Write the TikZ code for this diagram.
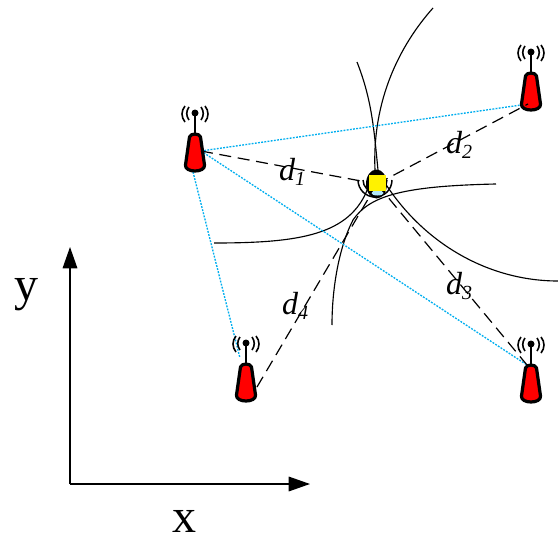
\documentclass[tikz,border=0pt]{standalone}
\usepackage{fontspec}
\setmainfont{Liberation Serif}
\usetikzlibrary{arrows.meta}
\definecolor{linkblue}{RGB}{0,174,239}
\newcommand{\dsub}[1]{\raisebox{-3.5pt}{\fontsize{15}{15}\selectfont #1}}
\tikzset{
  x=0.75pt,y=-0.75pt,
  rangeline/.style={line width=0.9pt,dash pattern=on 9pt off 5pt},
  bluelink/.style={linkblue,line width=1pt,dash pattern=on 1.4pt off 1pt},
  hyper/.style={line width=0.85pt},
  axisline/.style={line width=0.9pt,-{Triangle[length=16pt,width=11pt]}},
  axislabel/.style={font=\fontsize{36}{36}\selectfont,inner sep=0pt},
  dlabel/.style={font=\fontsize{24}{24}\selectfont\itshape,inner sep=0pt},
  pics/antenna/.style={code={
    \draw[line width=2.2pt,line cap=round] (0,2) -- (0,21);
    \fill (0,0) circle[radius=3.5];
    \draw[line width=1.2pt] (-6,-6) .. controls (-9,-2) and (-9,3) .. (-6,7);
    \draw[line width=1.2pt] (6,-6) .. controls (9,-2) and (9,3) .. (6,7);
    \draw[line width=1.2pt] (-10,-7) .. controls (-14,-2) and (-14,4) .. (-10,9);
    \draw[line width=1.2pt] (10,-7) .. controls (14,-2) and (14,4) .. (10,9);
    \draw[line width=2.4pt,fill=red,line join=round] (-5.5,24) .. controls (-4,20) and (4,20) .. (5.5,24) -- (9.5,52)
       .. controls (10.5,60) and (-10.5,60) .. (-9.5,52) -- cycle;
  }}
}
\begin{document}
\begin{tikzpicture}
\useasboundingbox (0,0) rectangle (558,539);
% axes
\coordinate (o) at (70,484);
\coordinate (yend) at (70,247);
\coordinate (xend) at (310,484);
\draw[axisline] (o) -- (yend);
\draw[axisline] (o) -- (xend);
\node[axislabel] (ylab) at (26,295) {y};
\node[axislabel] (xlab) at (184,521) {x};
% hyperbolas
\coordinate (h1a) at (433,8);
\coordinate (h1b) at (375,170);
\coordinate (h2a) at (357,62);
\coordinate (h2b) at (378,170);
\coordinate (h3a) at (214,243);
\coordinate (h3b) at (368,188);
\coordinate (h4a) at (332,325);
\coordinate (h4m) at (353,220);
\coordinate (h4b) at (496,184);
\coordinate (h5a) at (558,281);
\coordinate (h5b) at (385,183);
\draw[hyper] (h1a) .. controls (400,45) and (372,100) .. (h1b);
\draw[hyper] (h2a) .. controls (372,100) and (374,130) .. (h2b);
\draw[hyper] (h3a) .. controls (300,243) and (350,235) .. (h3b);
\draw[hyper] (h4a) .. controls (332,285) and (340,245) .. (h4m) .. controls (370,195) and (405,186) .. (h4b);
\draw[hyper] (h5a) .. controls (490,281) and (425,245) .. (h5b);
% anchors
\coordinate (m) at (377,184);
\coordinate (a1) at (201,151);
\coordinate (a2) at (528,104);
\coordinate (a3) at (527,365);
\coordinate (a4) at (257,387);
\coordinate (a4b) at (240,358);
\coordinate (a1b) at (193,172);
% links
\draw[bluelink] (a1) -- (a2);
\draw[bluelink] (a1) -- (a3);
\draw[bluelink] (a1b) -- (a4b);
% antennas
\pic at (195,113) {antenna};
\pic at (531,52) {antenna};
\pic at (246,343) {antenna};
\pic at (531,344) {antenna};
% dashed ranges
\draw[rangeline] (a1) -- (m);
\draw[rangeline] (m) -- (a2);
\draw[rangeline] (m) -- (a3);
\draw[rangeline] (m) -- (a4);
% mobile
\draw[line width=1.1pt] (358,180) arc[start angle=180,end angle=0,radius=17];
\draw[line width=1.1pt] (363,180) arc[start angle=180,end angle=0,radius=12];
\fill[black] (376.5,184) ellipse[x radius=10.5,y radius=14.5];
\fill[linkblue!30] (377.5,193) ellipse[x radius=6,y radius=2.5];
\node[fill=yellow,minimum width=12.75pt,minimum height=12pt,inner sep=0pt] (mobile) at (377.5,183) {};
% labels
\node[dlabel] (d1) at (292,172) {d\dsub{1}};
\node[dlabel] (d2) at (459,145) {d\dsub{2}};
\node[dlabel] (d3) at (459,286) {d\dsub{3}};
\node[dlabel] (d4) at (295,306) {d\dsub{4}};
\end{tikzpicture}
\end{document}
